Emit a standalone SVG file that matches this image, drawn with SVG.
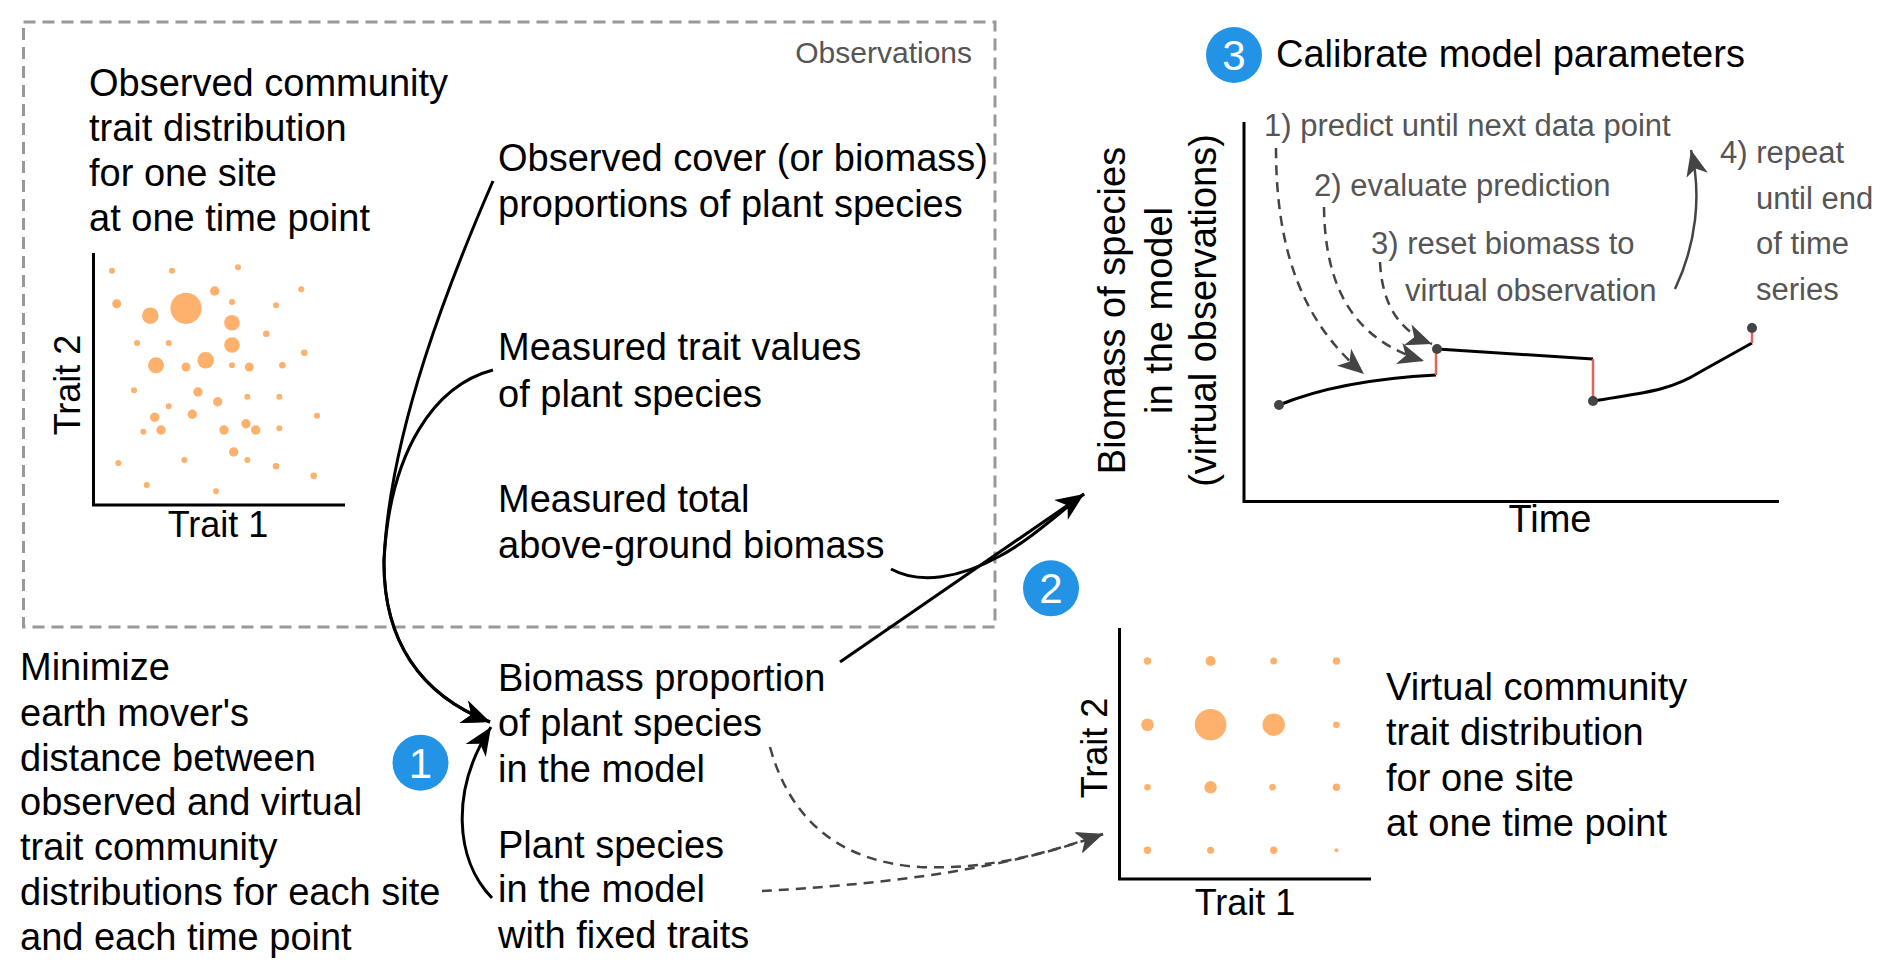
<svg xmlns="http://www.w3.org/2000/svg" width="1892" height="977" viewBox="0 0 1892 977">
<style>
text{font-family:"Liberation Sans",Arial,sans-serif;}
.t{font-size:38px;fill:#000;}
.tr{font-size:36px;fill:#000;}
.g{font-size:31px;fill:#555;}
.dot{fill:#FDB16C;}
.ax{stroke:#000;stroke-width:3;fill:none;}
.conn{stroke:#000;stroke-width:3;fill:none;}
.dash{stroke:#444;stroke-width:2.5;fill:none;stroke-dasharray:10 7;}
.badge{fill:#2393E6;}
.bn{font-size:42px;fill:#fff;text-anchor:middle;}
.red{stroke:#E8605A;stroke-width:2.5;}
.pt{fill:#444;}
</style>
<defs>
<marker id="ah" viewBox="-30 -14 32 28" markerWidth="32" markerHeight="28" refX="0" refY="0" orient="auto" markerUnits="userSpaceOnUse"><path d="M0,0 L-28,-12 L-20,0 L-28,12 Z" fill="#000"/></marker>
<marker id="ahg" viewBox="-28 -13 30 26" markerWidth="30" markerHeight="26" refX="0" refY="0" orient="auto" markerUnits="userSpaceOnUse"><path d="M0,0 L-26,-11 L-19,0 L-26,11 Z" fill="#444"/></marker>
</defs>
<rect width="1892" height="977" fill="#fff"/>

<g id="observations-box">
<rect x="23.5" y="22" width="971.5" height="605" fill="none" stroke="#999" stroke-width="3" stroke-dasharray="12 7"/>
<text class="g" x="972" y="63" text-anchor="end" style="font-size:30px">Observations</text>
</g>

<g id="observed-distribution">
<text class="t" x="89" y="95.5">Observed community</text>
<text class="t" x="89" y="140.5">trait distribution</text>
<text class="t" x="89" y="185.5">for one site</text>
<text class="t" x="89" y="230.5">at one time point</text>
<path class="ax" d="M93.5,253 V505 H345"/>
<text class="tr" transform="translate(80,385) rotate(-90)" text-anchor="middle">Trait 2</text>
<text class="tr" x="218" y="537" text-anchor="middle">Trait 1</text>
<g class="dot">
<circle cx="112" cy="270.7" r="3"/><circle cx="172" cy="270.7" r="3"/><circle cx="238" cy="267.3" r="3"/><circle cx="301.3" cy="289.3" r="3"/>
<circle cx="116.7" cy="303.7" r="4.5"/><circle cx="150.3" cy="315.7" r="8.3"/><circle cx="186" cy="308.3" r="15.6"/><circle cx="214.7" cy="291" r="4.7"/>
<circle cx="232" cy="302" r="3"/><circle cx="276" cy="305.3" r="3"/><circle cx="232" cy="322.7" r="7.8"/><circle cx="266.3" cy="333.7" r="3.3"/>
<circle cx="137" cy="343" r="3"/><circle cx="168.7" cy="343" r="3"/><circle cx="232" cy="345" r="7.8"/><circle cx="304.3" cy="352.7" r="3.3"/>
<circle cx="156" cy="365.3" r="8"/><circle cx="186" cy="367" r="4.5"/><circle cx="205.7" cy="360.3" r="8.3"/><circle cx="232" cy="365.3" r="3"/>
<circle cx="249.3" cy="367" r="4.5"/><circle cx="282.3" cy="365.3" r="3.3"/><circle cx="134" cy="390.3" r="3"/><circle cx="198" cy="392" r="4.7"/>
<circle cx="217.7" cy="401.7" r="4.7"/><circle cx="247.3" cy="396.7" r="3"/><circle cx="279.3" cy="396.7" r="3"/><circle cx="168.7" cy="406.3" r="3"/>
<circle cx="154.7" cy="417.3" r="4.7"/><circle cx="192.3" cy="414.3" r="4.7"/><circle cx="317" cy="415.7" r="3"/><circle cx="143.3" cy="431.7" r="3"/>
<circle cx="161" cy="430" r="4.7"/><circle cx="224" cy="430" r="4.7"/><circle cx="246" cy="423.7" r="4.7"/><circle cx="255.7" cy="430" r="4.7"/>
<circle cx="279.3" cy="428.3" r="3"/><circle cx="233.7" cy="452" r="4.7"/><circle cx="118.3" cy="463" r="3"/><circle cx="184.3" cy="460" r="3"/>
<circle cx="247.3" cy="460" r="3"/><circle cx="276" cy="466.3" r="3.3"/><circle cx="313.7" cy="475.7" r="3.3"/><circle cx="146.7" cy="485" r="3"/>
<circle cx="216" cy="491.3" r="3"/>
</g>
</g>

<g id="observed-cover">
<text class="t" x="498" y="170.7">Observed cover (or biomass)</text>
<text class="t" x="498" y="217.3">proportions of plant species</text>
</g>
<g id="measured-traits">
<text class="t" x="498" y="360">Measured trait values</text>
<text class="t" x="498" y="406.7">of plant species</text>
</g>
<g id="measured-biomass">
<text class="t" x="498" y="511.7">Measured total</text>
<text class="t" x="498" y="558.3">above-ground biomass</text>
</g>

<g id="biomass-proportion">
<text class="t" x="498" y="690.7">Biomass proportion</text>
<text class="t" x="498" y="735.5">of plant species</text>
<text class="t" x="498" y="781.5">in the model</text>
</g>
<g id="plant-species">
<text class="t" x="498" y="858.3">Plant species</text>
<text class="t" x="498" y="902">in the model</text>
<text class="t" x="498" y="948.3">with fixed traits</text>
</g>

<g id="minimize">
<text class="t" x="20" y="680">Minimize</text>
<text class="t" x="20" y="725.5">earth mover's</text>
<text class="t" x="20" y="770.5">distance between</text>
<text class="t" x="20" y="815">observed and virtual</text>
<text class="t" x="20" y="860">trait community</text>
<text class="t" x="20" y="905">distributions for each site</text>
<text class="t" x="20" y="949.5">and each time point</text>
</g>

<g id="badge-1"><circle class="badge" cx="420.5" cy="762.7" r="28"/><text class="bn" x="420.5" y="777.5">1</text></g>
<g id="badge-2"><circle class="badge" cx="1051" cy="588.3" r="28"/><text class="bn" x="1051" y="603">2</text></g>
<g id="badge-3"><circle class="badge" cx="1234" cy="55" r="28"/><text class="bn" x="1234" y="70">3</text></g>

<g id="calibrate">
<text class="t" x="1276" y="67">Calibrate model parameters</text>
<path class="ax" d="M1244,122 V501.5 H1779"/>
<text class="t" transform="translate(1125,310.5) rotate(-90)" text-anchor="middle">Biomass of species</text>
<text class="t" transform="translate(1172,310.5) rotate(-90)" text-anchor="middle">in the model</text>
<text class="t" transform="translate(1216,310.5) rotate(-90)" text-anchor="middle">(virtual observations)</text>
<text class="t" x="1550" y="532" text-anchor="middle">Time</text>
<text class="g" x="1264" y="136">1) predict until next data point</text>
<text class="g" x="1314" y="196">2) evaluate prediction</text>
<text class="g" x="1371" y="254">3) reset biomass to</text>
<text class="g" x="1405" y="301">virtual observation</text>
<text class="g" x="1720" y="163">4) repeat</text>
<text class="g" x="1756" y="209">until end</text>
<text class="g" x="1756" y="254">of time</text>
<text class="g" x="1756" y="300">series</text>
<path class="dash" d="M1276,148 C1276,250 1302,322 1364,374" marker-end="url(#ahg)"/>
<path class="dash" d="M1324,207 C1325,290 1355,340 1424,361" marker-end="url(#ahg)"/>
<path class="dash" d="M1380,262 C1382,305 1400,332 1432,344" marker-end="url(#ahg)"/>
<path d="M1675,289 C1696,245 1702,195 1691,150" fill="none" stroke="#444" stroke-width="2.5" marker-end="url(#ahg)"/>
<path class="conn" d="M1279,405 Q1340,380 1436,375"/>
<path class="conn" d="M1437,349 L1593,359"/>
<path class="conn" d="M1593,401 C1640,393 1668,392 1700,372 L1752,343"/>
<path class="red" d="M1436,375 V349 M1593,359 V401 M1752,343 V328"/>
<circle class="pt" cx="1279" cy="405" r="5"/>
<circle class="pt" cx="1437" cy="349" r="5"/>
<circle class="pt" cx="1593" cy="401" r="5"/>
<circle class="pt" cx="1752" cy="328" r="5"/>
</g>

<g id="virtual-distribution">
<path class="ax" d="M1119.5,628 V879 H1371"/>
<text class="tr" transform="translate(1107,748) rotate(-90)" text-anchor="middle">Trait 2</text>
<text class="tr" x="1245" y="915" text-anchor="middle">Trait 1</text>
<g class="dot">
<circle cx="1147.5" cy="661" r="3.7"/><circle cx="1210.6" cy="661" r="5"/><circle cx="1273.7" cy="661" r="3.5"/><circle cx="1336.4" cy="661" r="3.7"/>
<circle cx="1147.5" cy="724.7" r="6.3"/><circle cx="1210.6" cy="724.7" r="15.8"/><circle cx="1273.7" cy="724.7" r="11.2"/><circle cx="1336.4" cy="724.7" r="3.3"/>
<circle cx="1147.5" cy="787.3" r="3.3"/><circle cx="1210.6" cy="787.3" r="6.2"/><circle cx="1272.5" cy="787.3" r="3.3"/><circle cx="1336.4" cy="787.3" r="3.7"/>
<circle cx="1147.5" cy="850.3" r="3.7"/><circle cx="1210.6" cy="850.3" r="3.5"/><circle cx="1273.7" cy="850.3" r="3.7"/><circle cx="1336.4" cy="850.3" r="2"/>
</g>
<text class="t" x="1386" y="700">Virtual community</text>
<text class="t" x="1386" y="744.5">trait distribution</text>
<text class="t" x="1386" y="791">for one site</text>
<text class="t" x="1386" y="835.5">at one time point</text>
</g>

<g id="connectors">
<path class="conn" d="M493,181 C450,280 390,430 384,560 C383,640 420,695 490,722" marker-end="url(#ah)"/>
<path class="conn" d="M493,370 C435,385 390,450 384,560 C383,640 420,695 490,722" marker-end="url(#ah)"/>
<path class="conn" d="M492,898 C455,860 450,790 491,727" marker-end="url(#ah)"/>
<path class="conn" d="M840,662 Q960,580 1084,494" marker-end="url(#ah)"/>
<path class="conn" d="M891,569 C920,585 960,578 1000,556 C1030,540 1060,512 1084,494"/>
<path class="dash" d="M770,747 C790,820 840,862 920,867 C990,870 1050,852 1103,834" marker-end="url(#ahg)"/>
<path class="dash" d="M762,891 C870,885 1000,872 1103,834" marker-end="url(#ahg)"/>
</g>
</svg>
